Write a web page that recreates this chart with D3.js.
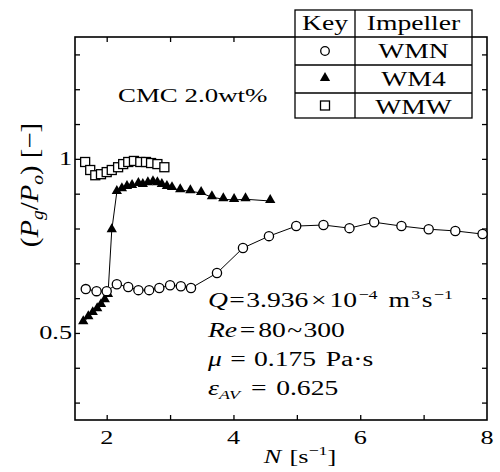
<!DOCTYPE html>
<html>
<head>
<script src="https://d3js.org/d3.v7.min.js"></script>
<style>
  body { margin: 0; background: #fff; }
</style>
</head>
<body>
<div id="viz"></div>
<script type="text/javascript">
    // impeller WMN (open circles)
    var wmnN = [1.67, 1.84, 2.0, 2.16, 2.34, 2.5, 2.67, 2.83, 3.0, 3.17, 3.33, 3.74, 4.15, 4.56, 4.99, 5.42, 5.83, 6.22, 6.65, 7.08, 7.5, 7.93];
    var wmnP = [0.626, 0.62, 0.62, 0.64, 0.632, 0.623, 0.623, 0.629, 0.637, 0.634, 0.629, 0.672, 0.744, 0.778, 0.807, 0.81, 0.801, 0.818, 0.807, 0.798, 0.793, 0.784];

    // impeller WM4 (filled triangles)
    var wm4N = [1.63, 1.71, 1.78, 1.85, 1.91, 1.97, 2.02, 2.08, 2.16, 2.24, 2.32, 2.4, 2.5, 2.57, 2.65, 2.73, 2.8, 2.87, 2.95, 3.03, 3.16, 3.32, 3.49, 3.66, 3.84, 4.01, 4.19, 4.58];
    var wm4P = [0.531, 0.545, 0.557, 0.568, 0.58, 0.594, 0.609, 0.795, 0.905, 0.913, 0.919, 0.922, 0.928, 0.925, 0.93, 0.933, 0.93, 0.925, 0.919, 0.916, 0.91, 0.907, 0.902, 0.89, 0.884, 0.882, 0.884, 0.879];

    // impeller WMW (open squares)
    var wmwN = [1.66, 1.74, 1.82, 1.91, 2.0, 2.08, 2.18, 2.26, 2.34, 2.43, 2.53, 2.62, 2.7, 2.8, 2.91];
    var wmwP = [0.991, 0.968, 0.953, 0.956, 0.962, 0.968, 0.976, 0.985, 0.991, 0.994, 0.991, 0.991, 0.988, 0.985, 0.976];

    var xTicks = [2, 3, 4, 5, 6, 7];
    var xLabels = [2, 4, 6, 8];
    var yTicks = [0.3, 0.4, 0.5, 0.6, 0.7, 0.8, 0.9, 1.0, 1.1, 1.2, 1.3];
    var yLabels = [0.5, 1];
    var keyRows = ["WMN", "WM4", "WMW"];

    var width = 500, height = 472;
    var margin = {top: 37, right: 13, bottom: 52, left: 75};
    var SX = 1.38; // the printed figure's text is set wide
    var FONT = "'Liberation Serif', 'DejaVu Serif', serif";

    var svg = d3.select("#viz").append("svg")
        .attr("width", width)
        .attr("height", height)
        .attr("font-family", FONT);

    var x = d3.scaleLinear().domain([1.5, 8]).range([margin.left, width - margin.right]);
    var y = d3.scaleLinear().domain([0.25, 1.35]).range([height - margin.bottom, margin.top]);

    function zip(a, b) { return a.map(function(d, i) { return [d, b[i]]; }); }

    // wide text helper
    function stext(parent, px, py, anchor, size) {
        return parent.append("g")
            .attr("transform", "translate(" + px + "," + py + ") scale(" + SX + ",1)")
            .append("text")
            .attr("font-family", FONT)
            .attr("fill", "#000")
            .attr("text-anchor", anchor)
            .attr("font-size", size);
    }
    function sup(t, s, dx) {
        t.append("tspan").attr("font-size", 13).attr("dy", -8).attr("dx", dx || 0).text(s);
    }

    // ticks, inward on all four sides
    var tk = 5;
    svg.append("g").attr("transform", "translate(0," + y.range()[0] + ")")
        .call(d3.axisBottom(x).tickValues(xTicks).tickSize(-tk).tickFormat(""));
    svg.append("g").attr("transform", "translate(0," + y.range()[1] + ")")
        .call(d3.axisTop(x).tickValues(xTicks).tickSize(-tk).tickFormat(""));
    svg.append("g").attr("transform", "translate(" + x.range()[0] + ",0)")
        .call(d3.axisLeft(y).tickValues(yTicks).tickSize(-tk).tickFormat(""));
    svg.append("g").attr("transform", "translate(" + x.range()[1] + ",0)")
        .call(d3.axisRight(y).tickValues(yTicks).tickSize(-tk).tickFormat(""));
    svg.selectAll(".domain").remove();
    svg.selectAll(".tick line").attr("stroke", "#000").attr("stroke-width", 1.3);

    // frame
    svg.append("rect")
        .attr("x", x.range()[0]).attr("y", y.range()[1])
        .attr("width", x.range()[1] - x.range()[0])
        .attr("height", y.range()[0] - y.range()[1])
        .attr("fill", "none").attr("stroke", "#000").attr("stroke-width", 1.6);

    // tick labels
    xLabels.forEach(function(v) {
        stext(svg, x(v), 444, "middle", 19).text(v);
    });
    yLabels.forEach(function(v) {
        stext(svg, x.range()[0] - 3, y(v) + 6.5, "end", 19).text(v);
    });

    // axis titles
    var xt = stext(svg, 300, 463, "middle", 19);
    xt.append("tspan").attr("font-style", "italic").text("N");
    xt.append("tspan").attr("dx", 6).text("[s");
    sup(xt, "\u22121");
    xt.append("tspan").attr("dy", 8).text("]");

    var yt = svg.append("g")
        .attr("transform", "translate(38,185) rotate(-90) scale(1.15,1)")
        .append("text").attr("font-family", FONT).attr("text-anchor", "middle").attr("font-size", 25);
    yt.append("tspan").text("(");
    yt.append("tspan").attr("font-style", "italic").text("P");
    yt.append("tspan").attr("font-style", "italic").attr("font-size", 17).attr("dy", 5).text("g");
    yt.append("tspan").attr("dy", -5).text("/");
    yt.append("tspan").attr("font-style", "italic").text("P");
    yt.append("tspan").attr("font-style", "italic").attr("font-size", 17).attr("dy", 5).text("o");
    yt.append("tspan").attr("dy", -5).text(") [\u2212]");

    // series lines
    var line = d3.line().x(function(d) { return x(d[0]); }).y(function(d) { return y(d[1]); });
    [zip(wmnN, wmnP), zip(wm4N, wm4P), zip(wmwN, wmwP)].forEach(function(s) {
        svg.append("path").datum(s).attr("d", line)
            .attr("fill", "none").attr("stroke", "#000").attr("stroke-width", 1);
    });

    // markers
    var tri = d3.symbol().type(d3.symbolTriangle).size(46);
    svg.append("g").selectAll("path").data(zip(wm4N, wm4P)).enter().append("path")
        .attr("d", tri)
        .attr("transform", function(d) { return "translate(" + x(d[0]) + "," + (y(d[1]) - 1) + ")"; })
        .attr("fill", "#000");

    svg.append("g").selectAll("rect").data(zip(wmwN, wmwP)).enter().append("rect")
        .attr("x", function(d) { return x(d[0]) - 4.5; })
        .attr("y", function(d) { return y(d[1]) - 4.5; })
        .attr("width", 9).attr("height", 9)
        .attr("fill", "#fff").attr("stroke", "#000").attr("stroke-width", 1.3);

    svg.append("g").selectAll("circle").data(zip(wmnN, wmnP)).enter().append("circle")
        .attr("cx", function(d) { return x(d[0]); })
        .attr("cy", function(d) { return y(d[1]); })
        .attr("r", 4.6)
        .attr("fill", "#fff").attr("stroke", "#000").attr("stroke-width", 1.3);

    // CMC label
    stext(svg, 118, 102, "start", 19.5).text("CMC 2.0wt%");

    // operating conditions
    var ax = 208, fs = 20;
    var q = stext(svg, ax, 307, "start", fs);
    q.append("tspan").attr("font-style", "italic").text("Q");
    q.append("tspan").attr("dx", 1).text("=");
    q.append("tspan").attr("dx", 1).text("3.936");
    q.append("tspan").attr("dx", 2).text("\u00d7");
    q.append("tspan").attr("dx", 2).text("10");
    sup(q, "\u22124", 1);
    q.append("tspan").attr("dy", 8).attr("dx", 8).text("m");
    sup(q, "3", 1);
    q.append("tspan").attr("dy", 8).attr("dx", 1).text("s");
    sup(q, "\u22121", 1);

    var re = stext(svg, ax, 337, "start", fs);
    re.append("tspan").attr("font-style", "italic").text("Re");
    re.append("tspan").attr("dx", 2).text("=");
    re.append("tspan").attr("dx", 2).text("80");
    re.append("tspan").attr("dx", 1).text("~");
    re.append("tspan").attr("dx", 1).text("300");

    var mu = stext(svg, ax, 366, "start", fs);
    mu.append("tspan").attr("font-style", "italic").text("\u03bc");
    mu.append("tspan").attr("dx", 6).text("=");
    mu.append("tspan").attr("dx", 6).text("0.175");
    mu.append("tspan").attr("dx", 7).text("Pa\u00b7s");

    var ep = stext(svg, ax, 395, "start", fs);
    ep.append("tspan").attr("font-style", "italic").text("\u03b5");
    ep.append("tspan").attr("font-style", "italic").attr("font-size", 13).attr("dy", 4).text("AV");
    ep.append("tspan").attr("dy", -4).attr("dx", 8).text("=");
    ep.append("tspan").attr("dx", 7).text("0.625");

    // key table
    var kx0 = 295, kx1 = 355, kx2 = 472;
    var rowY = [10, 37, 65, 93, 118];
    var key = svg.append("g");
    key.append("rect").attr("x", kx0).attr("y", rowY[0])
        .attr("width", kx2 - kx0).attr("height", rowY[4] - rowY[0])
        .attr("fill", "#fff").attr("stroke", "#000").attr("stroke-width", 1.3);
    rowY.slice(1, 4).forEach(function(ry) {
        key.append("line").attr("x1", kx0).attr("x2", kx2).attr("y1", ry).attr("y2", ry)
            .attr("stroke", "#000").attr("stroke-width", 1.3);
    });
    key.append("line").attr("x1", kx1).attr("x2", kx1).attr("y1", rowY[0]).attr("y2", rowY[4])
        .attr("stroke", "#000").attr("stroke-width", 1.3);

    stext(key, (kx0 + kx1) / 2, 30, "middle", 20).text("Key");
    stext(key, (kx1 + kx2) / 2, 30, "middle", 20).text("Impeller");
    keyRows.forEach(function(name, i) {
        stext(key, (kx1 + kx2) / 2, rowY[i + 1] + 21, "middle", 20).text(name);
    });
    var kc = (kx0 + kx1) / 2;
    var km = function(i) { return (rowY[i + 1] + rowY[i + 2]) / 2; };
    key.append("circle").attr("cx", kc).attr("cy", km(0)).attr("r", 4.3)
        .attr("fill", "#fff").attr("stroke", "#000").attr("stroke-width", 1.3);
    key.append("path").attr("d", tri).attr("transform", "translate(" + kc + "," + (km(1) - 1) + ")").attr("fill", "#000");
    key.append("rect").attr("x", kc - 4.5).attr("y", km(2) - 4.5).attr("width", 9).attr("height", 9)
        .attr("fill", "#fff").attr("stroke", "#000").attr("stroke-width", 1.3);
</script>
</body>
</html>
